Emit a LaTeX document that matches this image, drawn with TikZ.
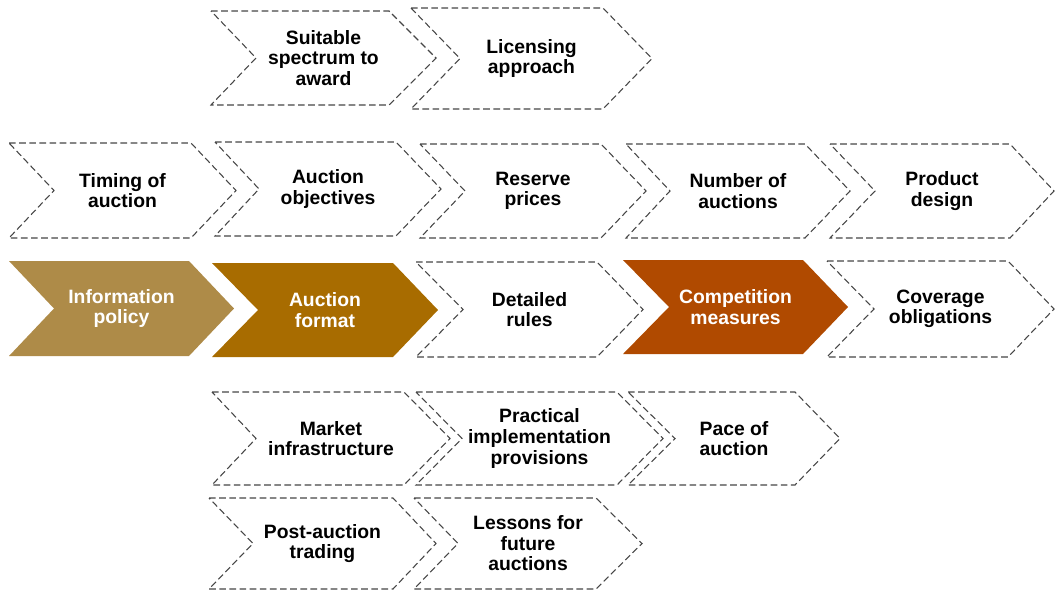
\documentclass[tikz,border=0pt]{standalone}
\usepackage{fontspec}
\setmainfont{Liberation Sans}
\definecolor{infoc}{RGB}{174,139,72}
\definecolor{formatc}{RGB}{168,108,0}
\definecolor{compc}{RGB}{176,74,0}
\definecolor{dashc}{RGB}{70,70,70}
\tikzset{
  outlined/.style={draw=dashc, line width=0.8pt, dash pattern=on 5pt off 2.6pt, fill=white},
  filledinfo/.style={fill=infoc, draw=none},
  filledformat/.style={fill=formatc, draw=none},
  filledcomp/.style={fill=compc, draw=none},
  outlined text/.style={text=black},
  filledinfo text/.style={text=white},
  filledformat text/.style={text=white},
  filledcomp text/.style={text=white},
  lbl/.style={align=center, font=\bfseries\fontsize{14.5}{15.4}\selectfont, inner sep=0pt}
}
% #1 left, #2 notch, #3 corner, #4 tip, #5 top, #6 bottom, #7 style, #8 name, #9 text
\newcommand\chev[9]{%
  \path[#7] (#1,#5) -- (#3,#5) -- (#4,{(#5+#6)/2}) -- (#3,#6) -- (#1,#6) -- (#2,{(#5+#6)/2}) -- cycle;
  \node[lbl, #7 text] (#8) at ({(#1+#4)/2},{(#5+#6)/2}) {#9};%
}
\begin{document}
\begin{tikzpicture}[x=0.75pt,y=-0.75pt]
\useasboundingbox (0,0) rectangle (1056,590);
% Row 1
\chev{211}{256}{389}{436}{11}{105}{outlined}{suit}{Suitable\\spectrum to\\award}
\chev{411}{460}{603}{652}{8}{109}{outlined}{lic}{Licensing\\approach}
% Row 2
\chev{9}{54}{191}{236}{143}{238}{outlined}{timing}{Timing of\\auction}
\chev{215}{259}{396}{441}{142}{236}{outlined}{obj}{Auction\\objectives}
\chev{420}{465}{601}{646}{144}{238}{outlined}{reserve}{Reserve\\prices}
\chev{626}{670}{805}{850}{144}{238}{outlined}{number}{Number of\\auctions}
\chev{830}{875}{1010}{1054}{144}{238}{outlined}{product}{Product\\design}
% Row 3
\chev{9}{54}{189}{234}{261}{356}{filledinfo}{info}{Information\\policy}
\chev{212}{258}{393}{438}{263}{357}{filledformat}{format}{Auction\\format}
\chev{416}{463}{597}{643}{262}{357}{outlined}{detailed}{Detailed\\rules}
\chev{623}{669}{803}{848}{260}{354}{filledcomp}{comp}{Competition\\measures}
\chev{827}{874}{1008}{1054}{261}{357}{outlined}{coverage}{Coverage\\obligations}
% Row 4
\chev{212}{256}{404}{450}{392}{485}{outlined}{market}{Market\\infrastructure}
\chev{416}{462}{617}{663}{392}{485}{outlined}{practical}{Practical\\implementation\\provisions}
\chev{628}{675}{795}{840}{392}{485}{outlined}{pace}{Pace of\\auction}
% Row 5
\chev{209}{253}{393}{436}{498}{589}{outlined}{post}{Post-auction\\trading}
\chev{414}{458}{596}{642}{498}{589}{outlined}{lessons}{Lessons for\\future\\auctions}
\end{tikzpicture}
\end{document}
